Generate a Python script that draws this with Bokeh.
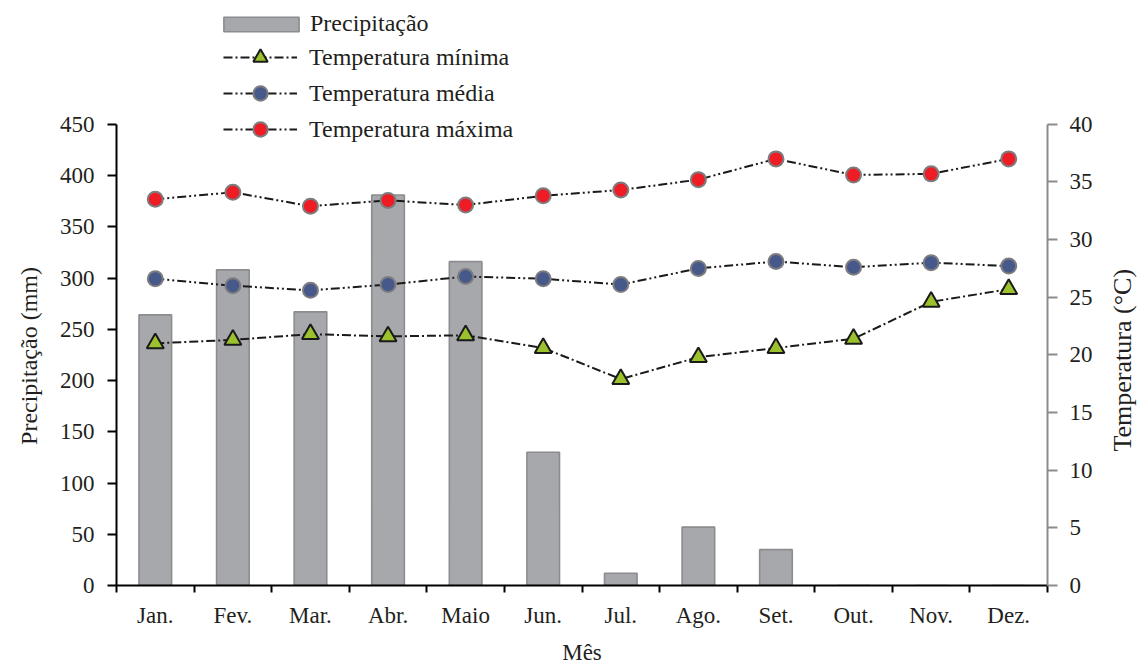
import math
import numpy as np
from bokeh.plotting import figure
from bokeh.layouts import row
from bokeh.models import Range1d, LinearAxis, FixedTicker, Legend, LegendItem, Label
from bokeh.embed import file_html
from bokeh.resources import INLINE

# ---- data ----
months = ["Jan.", "Fev.", "Mar.", "Abr.", "Maio", "Jun.", "Jul.", "Ago.", "Set.", "Out.", "Nov.", "Dez."]
precip = [264, 308, 267, 381, 316, 130, 12, 57, 35, 0, 0, 0]
t_min = [21.0, 21.3, 21.8, 21.6, 21.7, 20.6, 17.9, 19.8, 20.6, 21.4, 24.6, 25.7]
t_med = [26.6, 26.0, 25.6, 26.1, 26.8, 26.6, 26.1, 27.5, 28.1, 27.6, 28.0, 27.7]
t_max = [33.5, 34.1, 32.9, 33.4, 33.0, 33.8, 34.3, 35.2, 37.0, 35.6, 35.7, 37.0]
precip_ticks = list(range(0, 451, 50))
temp_ticks = list(range(0, 41, 5))
precip_max = 450
temp_max = 40

FONT = "Liberation Serif"
TXT = "#231f20"
NB = "\u00a0"

W, H = 1100, 667
LABEL_W = 37
FRAME_L, FRAME_R, FRAME_B = 116, 1047, 586
AXIS_PX = 462  # pixel height of the 0..450 span
headroom = FRAME_B / AXIS_PX

xs = np.arange(len(months)) + 0.5

p = figure(width=W, height=H, output_backend="svg", toolbar_location=None,
           x_range=Range1d(0, len(months)),
           y_range=Range1d(0, precip_max * headroom),
           min_border_left=FRAME_L, min_border_right=W - FRAME_R,
           min_border_top=0, min_border_bottom=H - FRAME_B,
           x_axis_location=None, y_axis_location=None)
p.grid.visible = False
p.outline_line_color = None
p.background_fill_color = "white"
p.border_fill_color = "white"
p.extra_y_ranges = {"temp": Range1d(0, temp_max * headroom)}

# x axis
xax = LinearAxis(ticker=FixedTicker(ticks=list(xs), minor_ticks=list(range(0, len(months) + 1))),
                 major_label_overrides={float(x): m for x, m in zip(xs, months)},
                 axis_label="Mês")
xax.major_tick_out = 0
xax.major_tick_in = 0
xax.minor_tick_out = 7
xax.minor_tick_in = 0
xax.minor_tick_line_color = "black"
xax.minor_tick_line_width = 2
xax.axis_line_color = "black"
xax.axis_line_width = 2
xax.major_label_standoff = 10
xax.axis_label_standoff = 9
xax.major_label_text_font = FONT
xax.major_label_text_font_size = "23px"
xax.major_label_text_color = TXT
xax.axis_label_text_font = FONT
xax.axis_label_text_font_size = "23px"
xax.axis_label_text_font_style = "normal"
xax.axis_label_text_color = TXT
p.add_layout(xax, "below")

# left axis (label padded with no-break spaces so it centres on the 0-450 span)
yax = LinearAxis(ticker=FixedTicker(ticks=precip_ticks),
                 axis_label="Precipitação (mm)" + NB * 21,
                 bounds=(0, precip_max))
yax.minor_tick_out = 0
yax.minor_tick_in = 0
yax.major_tick_out = 9
yax.major_tick_in = 0
yax.major_tick_line_width = 2
yax.axis_line_width = 2
yax.axis_line_color = "black"
yax.major_tick_line_color = "black"
yax.major_label_standoff = 13
yax.axis_label_standoff = 15
yax.major_label_text_font = FONT
yax.major_label_text_font_size = "23px"
yax.major_label_text_color = TXT
yax.axis_label_text_font = FONT
yax.axis_label_text_font_size = "24px"
yax.axis_label_text_font_style = "normal"
yax.axis_label_text_color = TXT
p.add_layout(yax, "left")

# right axis (its title is drawn in the narrow panel next to the plot)
rax = LinearAxis(y_range_name="temp", ticker=FixedTicker(ticks=temp_ticks), bounds=(0, temp_max))
rax.minor_tick_out = 0
rax.minor_tick_in = 0
rax.major_tick_out = 10
rax.major_tick_in = 0
rax.major_tick_line_width = 2
rax.major_tick_line_color = "#8c8c8e"
rax.axis_line_width = 2
rax.axis_line_color = "#8c8c8e"
rax.major_label_standoff = 12
rax.major_label_text_font = FONT
rax.major_label_text_font_size = "23px"
rax.major_label_text_color = TXT
p.add_layout(rax, "right")

# bars
bars = p.vbar(x=xs, top=precip, width=0.42, fill_color="#a7a8ac",
              line_color="#8b8c8f", line_width=1.6)

LINE = "#1a1a1a"
l_min = p.line(xs, t_min, y_range_name="temp", line_color=LINE, line_width=2, line_dash="9 3 2 3")
l_med = p.line(xs, t_med, y_range_name="temp", line_color=LINE, line_width=2, line_dash="9 3 2 3 2 3")
l_max = p.line(xs, t_max, y_range_name="temp", line_color=LINE, line_width=2, line_dash="9 3 2 3 2 3")
s_min = p.scatter(xs, t_min, y_range_name="temp", marker="triangle", size=17,
                  fill_color="#9cc12e", line_color="#1a1a1a", line_width=2)
s_med = p.scatter(xs, t_med, y_range_name="temp", marker="circle", size=15,
                  fill_color="#47598a", line_color="#7d7d80", line_width=2)
s_max = p.scatter(xs, t_max, y_range_name="temp", marker="circle", size=15,
                  fill_color="#ee1c25", line_color="#7d7d80", line_width=2)

def style_legend(lg):
    lg.border_line_alpha = 0
    lg.background_fill_alpha = 0
    lg.padding = 0
    lg.margin = 0
    lg.spacing = 0
    lg.label_text_font = FONT
    lg.label_text_font_size = "24px"
    lg.label_text_color = TXT

leg1 = Legend(items=[LegendItem(label="Precipitação", renderers=[bars])],
              location=(98, 548), glyph_width=94, glyph_height=18, label_standoff=2,
              label_height=18)
style_legend(leg1)
leg2 = Legend(items=[LegendItem(label="Temperatura mínima", renderers=[l_min, s_min]),
                     LegendItem(label="Temperatura média", renderers=[l_med, s_med]),
                     LegendItem(label="Temperatura máxima", renderers=[l_max, s_max])],
              location=(107, 438), glyph_width=74, glyph_height=36, label_standoff=12,
              label_height=18)
style_legend(leg2)
p.add_layout(leg1, "center")
p.add_layout(leg2, "center")

# narrow panel holding the right-hand axis title (text starts at its anchor and reads upward)
q = figure(width=LABEL_W, height=H, output_backend="svg", toolbar_location=None,
           x_range=Range1d(0, 1), y_range=Range1d(0, 1),
           min_border_left=0, min_border_right=0, min_border_top=0, min_border_bottom=0,
           x_axis_location=None, y_axis_location=None)
q.grid.visible = False
q.outline_line_color = None
q.background_fill_color = "white"
q.border_fill_color = "white"
q.add_layout(Label(x=22, y=134, x_units="screen", y_units="screen",
                   text="Temperatura (°C)", angle=math.pi / 2,
                   text_align="left", text_baseline="middle",
                   text_font=FONT, text_font_size="26px", text_color=TXT))

layout = row(p, q, spacing=0)
open("out.html", "w").write(file_html(layout, INLINE))
